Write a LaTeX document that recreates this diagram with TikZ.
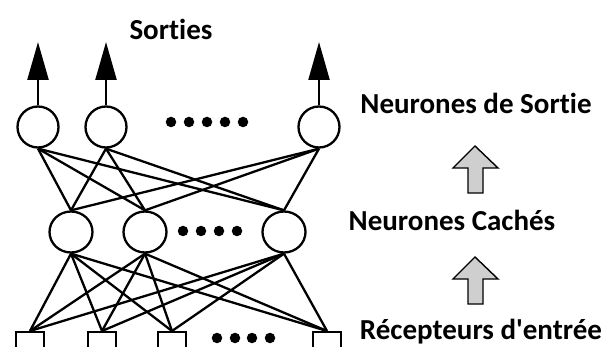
\documentclass[tikz,border=0pt]{standalone}
\usepackage{fontspec}
\setmainfont{Carlito}[Ligatures={NoCommon,TeXOff}]
\usetikzlibrary{arrows.meta,shapes.geometric}
\begin{document}
\begin{tikzpicture}[x=1pt,y=-1pt,
  neuron/.style={draw, line width=2.3pt, circle, minimum size=41pt, inner sep=0pt},
  hneuron/.style={draw, line width=2.3pt, ellipse, minimum width=43pt, minimum height=41pt, inner sep=0pt},
  receptor/.style={draw, line width=2pt, rectangle, minimum width=28pt, minimum height=16pt, inner sep=0pt},
  link/.style={line width=2.3pt},
  outarrow/.style={line width=2.3pt, -{Triangle[length=38pt,width=21pt]}},
  dot/.style={fill, circle, minimum size=10.5pt, inner sep=0pt},
  label/.style={font=\fontsize{29}{30}\selectfont\bfseries, inner sep=0pt},
  blockarrow/.style={draw, line width=1.4pt, fill=gray!38, line join=miter}
]
\useasboundingbox (0,0) rectangle (610,347);

% output layer
\node[neuron] (o1) at (38,127) {};
\node[neuron] (o2) at (106,127) {};
\node[neuron] (o3) at (319,127) {};
\foreach \x in {171,189,207,225,243} \node[dot] at (\x,122) {};

% hidden layer
\node[hneuron] (h1) at (71,232) {};
\node[hneuron] (h2) at (145,232) {};
\node[hneuron] (h3) at (284,232) {};
\foreach \x in {183,201,219,237} \node[dot] at (\x,231) {};

% input receptors
\node[receptor] (r1) at (30,340) {};
\node[receptor] (r2) at (102,340) {};
\node[receptor] (r3) at (172,340) {};
\node[receptor] (r4) at (327,340) {};
\foreach \x in {217,235,252,270} \node[dot] at (\x,338) {};

% output arrows
\coordinate (t1) at (38,42);
\coordinate (t2) at (106,42);
\coordinate (t3) at (319,42);
\foreach \i in {1,2,3} \draw[outarrow] (o\i.north) -- (t\i);

% connections output <-> hidden
\foreach \i in {1,2,3}
  \foreach \j in {1,2,3}
    \draw[link] (o\i.south) -- (h\j.north);

% connections hidden <-> receptors
\foreach \j in {1,2,3}
  \foreach \k in {1,2,3,4}
    \draw[link] (h\j.south) -- (r\k.north);

% labels
\node[label] (sorties) at (171,29) {Sorties};
\node[label] (lout) at (476,103) {Neurones de Sortie};
\node[label] (lhid) at (452,220) {Neurones Cachés};
\node[label] (lin) at (481,332) {Récepteurs d'entrée};

% block arrows between layer labels
\draw[blockarrow] (468,193) -- (468,168) -- (453,168) -- (475,146) -- (498,168) -- (483,168) -- (483,193) -- cycle;
\draw[blockarrow] (468,304) -- (468,279) -- (453,279) -- (475,257) -- (498,279) -- (483,279) -- (483,304) -- cycle;
\end{tikzpicture}
\end{document}
